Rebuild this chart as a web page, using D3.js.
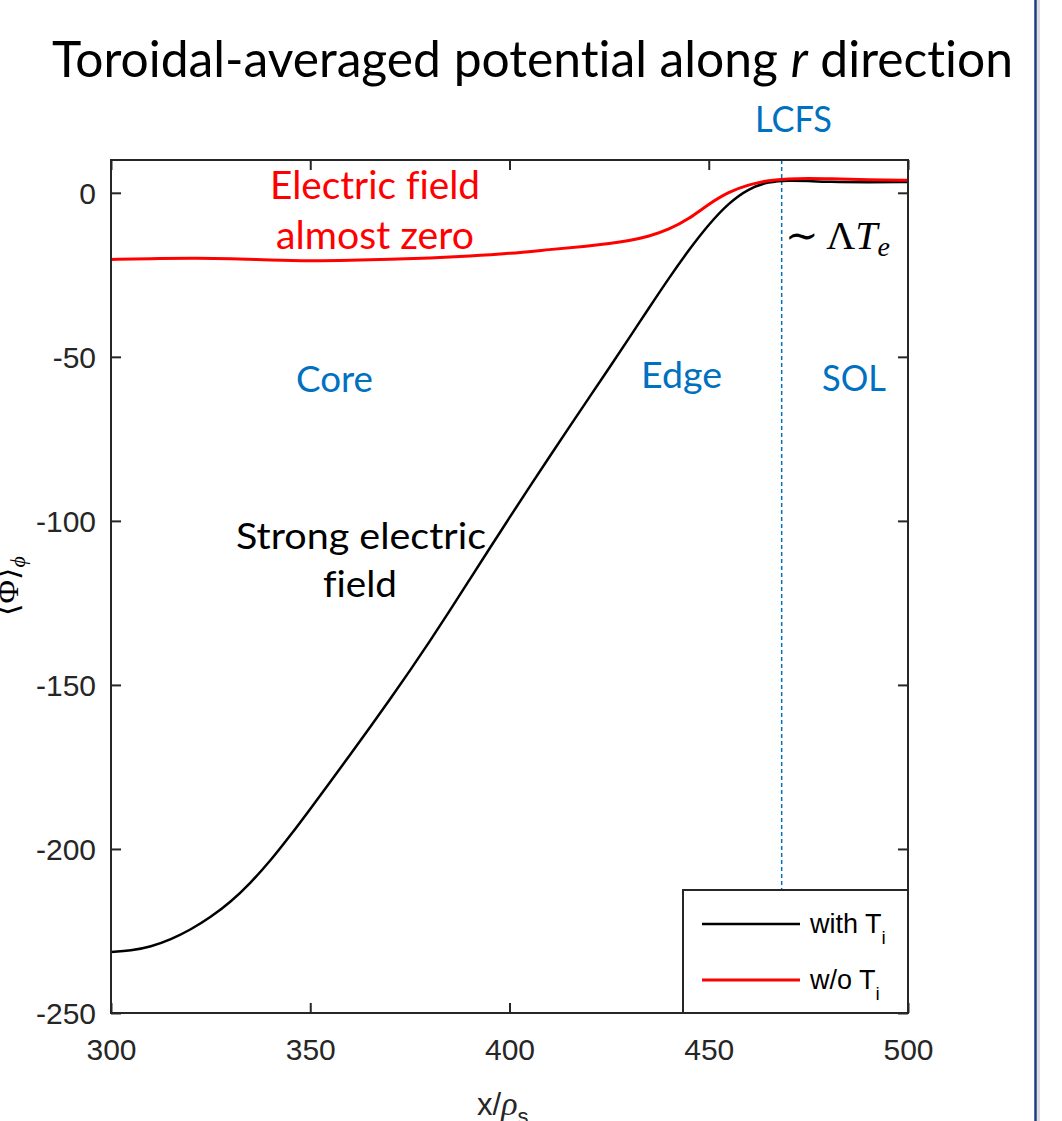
<!DOCTYPE html>
<html>
<head>
<meta charset="utf-8">
<script src="https://cdn.jsdelivr.net/npm/d3@7"></script>
<style>
  html, body { margin: 0; padding: 0; background: #fff; }
  svg { display: block; }
  text { font-variant-ligatures: none; font-feature-settings: "liga" 0, "clig" 0; }
</style>
</head>
<body>
<svg id="chart" width="1062" height="1121"></svg>
<script>
// ---------------- data ----------------
const xWithTi = [300, 305, 310, 315, 320, 325, 330, 335, 340, 345, 350, 355, 360, 365, 370, 375, 380, 385, 390, 395, 400, 405, 410, 415, 420, 425, 430, 435, 440, 445, 450, 455, 460, 465, 470, 475, 480, 490, 500];
const yWithTi = [-231.4, -231.0, -229.8, -227.6, -224.6, -220.8, -216.2, -210.4, -203.6, -195.9, -187.8, -179.6, -171.3, -162.9, -154.4, -145.7, -136.7, -127.4, -117.9, -108.4, -99.0, -89.7, -80.5, -71.4, -62.4, -53.4, -44.3, -35.1, -26.0, -17.4, -9.6, -3.1, 1.3, 3.4, 3.8, 3.6, 3.3, 3.2, 3.3];

const xWoTi = [300, 310, 320, 330, 340, 350, 360, 370, 380, 390, 400, 410, 420, 425, 430, 435, 440, 445, 450, 455, 460, 465, 470, 475, 480, 490, 500];
const yWoTi = [-20.3, -20.1, -19.9, -20.0, -20.5, -20.8, -20.6, -20.3, -19.9, -19.3, -18.5, -17.3, -16.2, -15.5, -14.6, -13.3, -11.2, -8.0, -3.4, 0.3, 2.5, 3.8, 4.3, 4.4, 4.3, 4.0, 3.8];

const xTicks = [300, 350, 400, 450, 500];
const yTicks = [0, -50, -100, -150, -200, -250];
const xTickLabels = ["300", "350", "400", "450", "500"];
const yTickLabels = ["0", "-50", "-100", "-150", "-200", "-250"];
const xDomain = [300, 500];
const yDomain = [-250, 10];
const lcfsX = 468.3;

const seriesNames = ["with T", "w/o T"];
const seriesSubs = ["i", "i"];
const seriesColors = ["#000000", "#ff0000"];

// ---------------- layout ----------------
const svg = d3.select("#chart");
const L = 111, R = 908, T = 160, B = 1013;
const x = d3.scaleLinear().domain(xDomain).range([L, R]);
const y = d3.scaleLinear().domain(yDomain).range([B, T]);
const axisColor = "#262626";
const sans = "'Liberation Sans', Arial, sans-serif";
const cal = "Lato, 'Open Sans', sans-serif";
const serif = "'Liberation Serif', 'DejaVu Serif', serif";
const blue = "#0070C0";

// right-side slide border
svg.append("line").attr("x1", 1038.5).attr("x2", 1038.5).attr("y1", 0).attr("y2", 1121)
  .attr("stroke", "#dcdcdc").attr("stroke-width", 3);
svg.append("line").attr("x1", 1035.5).attr("x2", 1035.5).attr("y1", 0).attr("y2", 1121)
  .attr("stroke", "#1f3a85").attr("stroke-width", 2.5);

function fitText(parent, x0, x1, baseline, size, color, family) {
  return parent.append("text").attr("x", x0).attr("y", baseline)
    .attr("font-family", family).attr("font-size", size).attr("fill", color)
    .attr("textLength", x1 - x0).attr("lengthAdjust", "spacingAndGlyphs");
}

// title
const title = fitText(svg, 52, 1013, 77, 50, "#000", cal);
title.append("tspan").text("Toroidal-averaged potential along ");
title.append("tspan").attr("font-style", "italic").text("r");
title.append("tspan").text(" direction");

// LCFS dashed line
svg.append("line").attr("x1", x(lcfsX)).attr("x2", x(lcfsX)).attr("y1", T).attr("y2", B)
  .attr("stroke", "#0072BD").attr("stroke-width", 1.5).attr("stroke-dasharray", "4,3");

// curves
const line = d3.line().x(d => x(d[0])).y(d => y(d[1])).curve(d3.curveBasis);
svg.append("path").datum(xWithTi.map((v, i) => [v, yWithTi[i]]))
  .attr("d", line).attr("fill", "none").attr("stroke", seriesColors[0]).attr("stroke-width", 2.5);
svg.append("path").datum(xWoTi.map((v, i) => [v, yWoTi[i]]))
  .attr("d", line).attr("fill", "none").attr("stroke", seriesColors[1]).attr("stroke-width", 3);

// axes box
svg.append("rect").attr("x", L).attr("y", T).attr("width", R - L).attr("height", B - T)
  .attr("fill", "none").attr("stroke", axisColor).attr("stroke-width", 2);

// axes with ticks inward
const tickLen = 10;
const ax = svg.append("g").attr("transform", `translate(0,${B})`)
  .call(d3.axisBottom(x).tickValues(xTicks).tickSizeInner(-tickLen).tickSizeOuter(0).tickPadding(26)
    .tickFormat((d, i) => xTickLabels[i]));
const axTop = svg.append("g").attr("transform", `translate(0,${T})`)
  .call(d3.axisTop(x).tickValues(xTicks).tickSizeInner(-tickLen).tickSizeOuter(0).tickFormat(""));
const ay = svg.append("g").attr("transform", `translate(${L},0)`)
  .call(d3.axisLeft(y).tickValues(yTicks).tickSizeInner(-tickLen).tickSizeOuter(0).tickPadding(15)
    .tickFormat((d, i) => yTickLabels[i]));
const ayR = svg.append("g").attr("transform", `translate(${R},0)`)
  .call(d3.axisRight(y).tickValues(yTicks).tickSizeInner(-tickLen).tickSizeOuter(0).tickFormat(""));
[ax, axTop, ay, ayR].forEach(g => {
  g.select(".domain").remove();
  g.selectAll(".tick line").attr("stroke", axisColor).attr("stroke-width", 2);
  g.selectAll(".tick text").attr("fill", axisColor).attr("font-family", sans).attr("font-size", 30);
});
ax.selectAll(".tick text").attr("dy", "0.71em");
ay.selectAll(".tick text").attr("dy", "0.36em");

// annotations
fitText(svg, 755, 832, 132, 36, blue, cal).text("LCFS");
fitText(svg, 270, 480, 199, 38, "#ff0000", cal).text("Electric field");
fitText(svg, 276, 474, 249, 38, "#ff0000", cal).text("almost zero");
fitText(svg, 296, 373, 392, 37, blue, cal).text("Core");
fitText(svg, 641, 722, 388, 37, blue, cal).text("Edge");
fitText(svg, 822, 886, 391, 37, blue, cal).text("SOL");
fitText(svg, 236, 486, 549, 37, "#000", cal).text("Strong electric");
fitText(svg, 323, 397, 597, 37, "#000", cal).text("field");

// ~ ΛT_e
const lam = svg.append("text").attr("x", 785).attr("y", 249).attr("font-family", serif)
  .attr("font-size", 40).attr("fill", "#000");
lam.append("tspan").text("∼ Λ");
lam.append("tspan").attr("font-style", "italic").text("T");
lam.append("tspan").attr("font-style", "italic").attr("font-size", 28).attr("dy", 7).text("e");

// legend
const lg = svg.append("g");
lg.append("rect").attr("x", 683).attr("y", 890).attr("width", 225).attr("height", 123)
  .attr("fill", "#fff").attr("stroke", axisColor).attr("stroke-width", 2);
const legY = [924, 980];
seriesNames.forEach((n, i) => {
  lg.append("line").attr("x1", 702).attr("x2", 800).attr("y1", legY[i]).attr("y2", legY[i])
    .attr("stroke", seriesColors[i]).attr("stroke-width", i === 0 ? 2.5 : 3);
  const t = lg.append("text").attr("x", 810).attr("y", legY[i] + 9).attr("font-family", sans)
    .attr("font-size", 27).attr("fill", "#000");
  t.append("tspan").text(n);
  t.append("tspan").attr("font-size", 19).attr("dy", 11).text(seriesSubs[i]);
});

// y label (partially cut off, as in the reference)
const yl = svg.append("text").attr("transform", "translate(18,586) rotate(-90)")
  .attr("text-anchor", "middle").attr("font-family", serif).attr("font-size", 32).attr("fill", "#000");
yl.append("tspan").text("⟨Φ⟩");
yl.append("tspan").attr("font-style", "italic").attr("font-size", 22).attr("dy", 7).text("ϕ");

// x label (partially cut off, as in the reference)
const xl = svg.append("text").attr("x", 477).attr("y", 1115).attr("font-family", sans)
  .attr("font-size", 31).attr("fill", axisColor);
xl.append("tspan").text("x/");
xl.append("tspan").attr("font-family", serif).attr("font-style", "italic").attr("font-size", 34).text("ρ");
xl.append("tspan").attr("font-size", 22).attr("dy", 9).text("s");
</script>
</body>
</html>
